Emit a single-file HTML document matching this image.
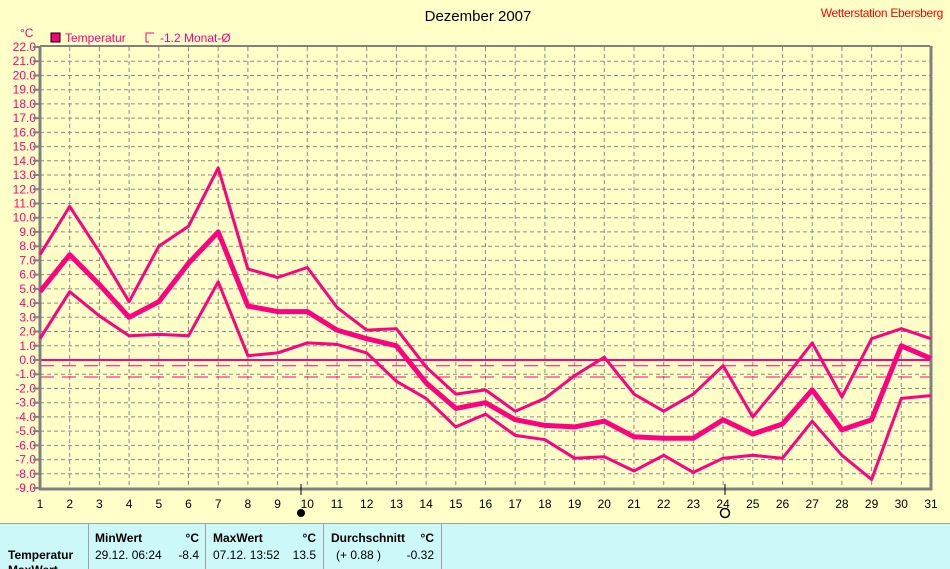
<!DOCTYPE html>
<html><head><meta charset="utf-8"><style>
body{margin:0;width:950px;height:569px;overflow:hidden;background:#FFFFC8;font-family:"Liberation Sans",sans-serif;}
svg{position:absolute;left:0;top:0}
</style></head><body>
<svg width="950" height="569" xmlns="http://www.w3.org/2000/svg" font-family="Liberation Sans, sans-serif">
<rect width="950" height="569" fill="#FFFFC8"/>
<text x="478" y="21" font-size="15" text-anchor="middle">Dezember 2007</text>
<text x="943" y="17" font-size="12" text-anchor="end" fill="#FF0000" letter-spacing="-0.3">Wetterstation Ebersberg</text>
<text x="20" y="37" font-size="12" fill="#FF0080">°C</text>
<rect x="51" y="33" width="9" height="9" fill="#FF0080" stroke="#000"/>
<text x="65" y="42" font-size="12" fill="#FF0080">Temperatur</text>
<path d="M146 42 V33 H154 M146 42 H149" stroke="#FF0080" fill="none"/>
<text x="160" y="42" font-size="12" fill="#FF0080">-1.2 Monat-Ø</text>
<g stroke="#8a8a8a" stroke-dasharray="4,3" stroke-width="1">
<path d="M40 61.2H930M40 75.5H930M40 89.7H930M40 103.9H930M40 118.1H930M40 132.4H930M40 146.6H930M40 160.8H930M40 175H930M40 189.3H930M40 203.5H930M40 217.7H930M40 231.9H930M40 246.2H930M40 260.4H930M40 274.6H930M40 288.9H930M40 303.1H930M40 317.3H930M40 331.5H930M40 345.8H930M40 374.2H930M40 388.5H930M40 402.7H930M40 416.9H930M40 431.1H930M40 445.4H930M40 459.6H930M40 473.8H930"/>
<path d="M69.7 47V488M99.4 47V488M129.1 47V488M158.8 47V488M188.5 47V488M218.2 47V488M247.9 47V488M277.6 47V488M307.3 47V488M337 47V488M366.7 47V488M396.4 47V488M426.1 47V488M455.8 47V488M485.5 47V488M515.2 47V488M544.9 47V488M574.6 47V488M604.3 47V488M634 47V488M663.7 47V488M693.4 47V488M723.1 47V488M752.8 47V488M782.5 47V488M812.2 47V488M841.9 47V488M871.6 47V488M901.3 47V488"/>
</g>
<path d="M40 360H930" stroke="#FF0080" stroke-width="2"/>
<path d="M40 365.7H930M40 377H930" stroke="#FF0080" stroke-width="1" stroke-dasharray="14,8"/>
<path d="M40 46V489H931V46" stroke="#808080" stroke-width="3" fill="none"/>
<path d="M40 46H930" stroke="#808080" stroke-width="2"/>
<g fill="none" stroke="#FF0080" stroke-linejoin="round">
<polyline stroke-width="3" points="40,254.7 69.7,206.4 99.4,251.9 129.1,301.7 158.8,246.2 188.5,226.3 218.2,167.9 247.9,269 277.6,277.5 307.3,267.5 337,307.4 366.7,330.1 396.4,328.7 426.1,367.1 455.8,394.1 485.5,389.9 515.2,411.2 544.9,398.4 574.6,375.6 604.3,357.2 634,394.1 663.7,411.2 693.4,394.1 723.1,365.7 752.8,416.9 782.5,381.3 812.2,342.9 841.9,397 871.6,338.7 901.3,328.7 931,338.7"/>
<polyline stroke-width="5" points="40,291.7 69.7,254.7 99.4,284.6 129.1,317.3 158.8,301.7 188.5,263.3 218.2,232 247.9,306 277.6,311.6 307.3,311.6 337,330.1 366.7,338.7 396.4,345.8 426.1,382.8 455.8,408.4 485.5,402.7 515.2,419.7 544.9,425.4 574.6,426.9 604.3,421.2 634,436.8 663.7,438.2 693.4,438.2 723.1,419.7 752.8,434 782.5,424 812.2,389.9 841.9,429.7 871.6,419.7 901.3,345.8 931,358.6"/>
<polyline stroke-width="3" points="40,338.7 69.7,291.7 99.4,315.9 129.1,335.8 158.8,334.4 188.5,335.8 218.2,281.8 247.9,355.7 277.6,352.9 307.3,342.9 337,344.4 366.7,352.9 396.4,381.3 426.1,398.4 455.8,426.9 485.5,414.1 515.2,435.4 544.9,439.7 574.6,458.2 604.3,456.7 634,471 663.7,455.3 693.4,472.4 723.1,458.2 752.8,455.3 782.5,458.2 812.2,421.2 841.9,455.3 871.6,479.5 901.3,398.4 931,395.6"/>
</g>
<g font-size="12" fill="#FF0080" text-anchor="end">
<text x="36" y="51">22.0</text><text x="36" y="65.2">21.0</text><text x="36" y="79.5">20.0</text><text x="36" y="93.7">19.0</text><text x="36" y="107.9">18.0</text><text x="36" y="122.1">17.0</text><text x="36" y="136.4">16.0</text><text x="36" y="150.6">15.0</text><text x="36" y="164.8">14.0</text><text x="36" y="179">13.0</text><text x="36" y="193.3">12.0</text><text x="36" y="207.5">11.0</text><text x="36" y="221.7">10.0</text><text x="36" y="235.9">9.0</text><text x="36" y="250.2">8.0</text><text x="36" y="264.4">7.0</text><text x="36" y="278.6">6.0</text><text x="36" y="292.9">5.0</text><text x="36" y="307.1">4.0</text><text x="36" y="321.3">3.0</text><text x="36" y="335.5">2.0</text><text x="36" y="349.8">1.0</text><text x="36" y="364">0.0</text><text x="36" y="378.2">-1.0</text><text x="36" y="392.5">-2.0</text><text x="36" y="406.7">-3.0</text><text x="36" y="420.9">-4.0</text><text x="36" y="435.1">-5.0</text><text x="36" y="449.4">-6.0</text><text x="36" y="463.6">-7.0</text><text x="36" y="477.8">-8.0</text><text x="36" y="492">-9.0</text>
</g>
<g stroke="#808080" stroke-width="2"><path d="M33 47H40M33 61.2H40M33 75.5H40M33 89.7H40M33 103.9H40M33 118.1H40M33 132.4H40M33 146.6H40M33 160.8H40M33 175H40M33 189.3H40M33 203.5H40M33 217.7H40M33 231.9H40M33 246.2H40M33 260.4H40M33 274.6H40M33 288.9H40M33 303.1H40M33 317.3H40M33 331.5H40M33 345.8H40M33 360H40M33 374.2H40M33 388.5H40M33 402.7H40M33 416.9H40M33 431.1H40M33 445.4H40M33 459.6H40M33 473.8H40M33 488H40"/></g>
<g font-size="12" fill="#000" text-anchor="middle">
<text x="40" y="508">1</text><text x="69.7" y="508">2</text><text x="99.4" y="508">3</text><text x="129.1" y="508">4</text><text x="158.8" y="508">5</text><text x="188.5" y="508">6</text><text x="218.2" y="508">7</text><text x="247.9" y="508">8</text><text x="277.6" y="508">9</text><text x="307.3" y="508">10</text><text x="337" y="508">11</text><text x="366.7" y="508">12</text><text x="396.4" y="508">13</text><text x="426.1" y="508">14</text><text x="455.8" y="508">15</text><text x="485.5" y="508">16</text><text x="515.2" y="508">17</text><text x="544.9" y="508">18</text><text x="574.6" y="508">19</text><text x="604.3" y="508">20</text><text x="634" y="508">21</text><text x="663.7" y="508">22</text><text x="693.4" y="508">23</text><text x="723.1" y="508">24</text><text x="752.8" y="508">25</text><text x="782.5" y="508">26</text><text x="812.2" y="508">27</text><text x="841.9" y="508">28</text><text x="871.6" y="508">29</text><text x="901.3" y="508">30</text><text x="931" y="508">31</text>
</g>
<path d="M301 484V495M725 484V495" stroke="#000"/>
<circle cx="301" cy="513" r="4" fill="#000"/>
<circle cx="725" cy="513" r="4.5" fill="none" stroke="#000" stroke-width="1.5"/>
<rect x="0" y="523" width="950" height="46" fill="#CCF8F8"/>
<path d="M0 523.5H950M88.5 523V569M205.5 523V569M323.5 523V569M441.5 523V569" stroke="#A0A0A0"/>
<g font-size="12" font-weight="bold">
<text x="95" y="542">MinWert</text><text x="199" y="542" text-anchor="end">°C</text>
<text x="213" y="542">MaxWert</text><text x="316" y="542" text-anchor="end">°C</text>
<text x="331" y="542">Durchschnitt</text><text x="434" y="542" text-anchor="end">°C</text>
<text x="8" y="559">Temperatur</text>
<text x="8" y="574">MaxWert</text>
</g>
<g font-size="12">
<text x="95" y="559">29.12.  06:24</text><text x="199" y="559" text-anchor="end">-8.4</text>
<text x="213" y="559">07.12.  13:52</text><text x="316" y="559" text-anchor="end">13.5</text>
<text x="336" y="559">(+ 0.88 )</text><text x="434" y="559" text-anchor="end">-0.32</text>
</g>
</svg>
</body></html>
